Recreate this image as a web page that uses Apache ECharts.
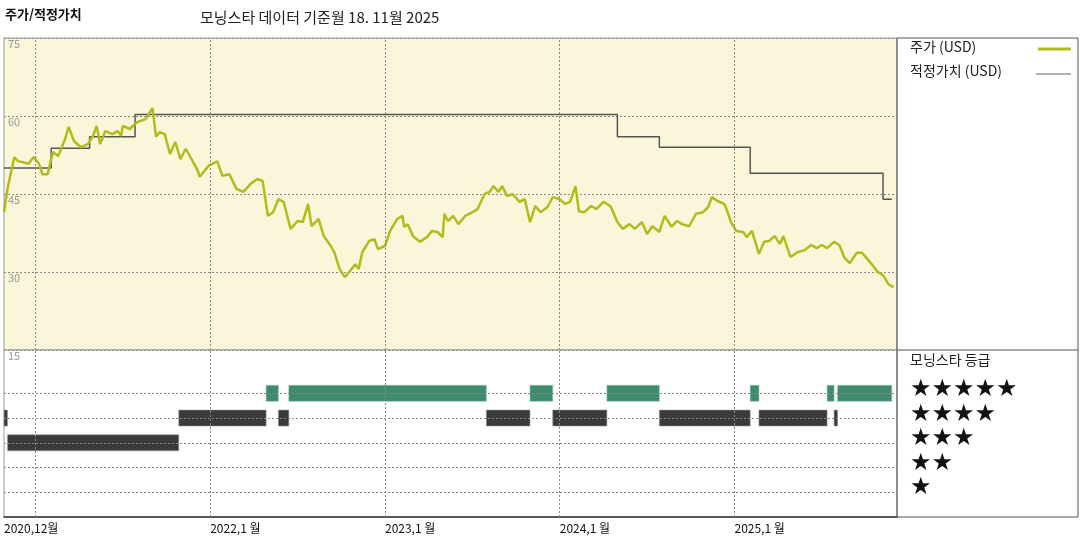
<!DOCTYPE html>
<html>
<head>
<meta charset="utf-8">
<script src="https://cdn.jsdelivr.net/npm/echarts@6/dist/echarts.min.js"></script>
<style>
  html, body { margin: 0; padding: 0; background: #fff; }
  #main { width: 1080px; height: 540px; }
</style>
</head>
<body>
<div id="main"></div>
<script>
// 시간 축은 소수 연도 (2021.5 = 2021년 중반)
const priceYears = [2020.82,2020.84,2020.86,2020.88,2020.90,2020.93,2020.96,2020.99,2021.02,2021.04,2021.07,2021.10,2021.13,2021.14,2021.17,2021.19,2021.22,2021.26,2021.30,2021.33,2021.35,2021.37,2021.40,2021.44,2021.47,2021.49,2021.50,2021.54,2021.58,2021.63,2021.67,2021.69,2021.71,2021.74,2021.77,2021.80,2021.83,2021.86,2021.90,2021.93,2021.94,2021.99,2022.04,2022.07,2022.11,2022.15,2022.19,2022.23,2022.27,2022.30,2022.33,2022.36,2022.39,2022.42,2022.46,2022.50,2022.53,2022.56,2022.58,2022.62,2022.65,2022.69,2022.71,2022.74,2022.77,2022.80,2022.83,2022.85,2022.87,2022.91,2022.94,2022.96,2023.00,2023.03,2023.07,2023.10,2023.11,2023.13,2023.16,2023.20,2023.24,2023.27,2023.30,2023.33,2023.34,2023.36,2023.39,2023.42,2023.46,2023.50,2023.53,2023.57,2023.60,2023.62,2023.65,2023.67,2023.70,2023.73,2023.77,2023.80,2023.83,2023.86,2023.89,2023.93,2023.96,2024.00,2024.03,2024.06,2024.09,2024.11,2024.14,2024.18,2024.21,2024.25,2024.29,2024.33,2024.36,2024.40,2024.43,2024.47,2024.50,2024.53,2024.57,2024.60,2024.64,2024.67,2024.70,2024.74,2024.78,2024.82,2024.85,2024.87,2024.90,2024.94,2024.95,2024.98,2025.01,2025.05,2025.07,2025.10,2025.14,2025.17,2025.20,2025.23,2025.26,2025.28,2025.32,2025.36,2025.40,2025.44,2025.47,2025.50,2025.53,2025.57,2025.60,2025.63,2025.66,2025.70,2025.73,2025.75,2025.79,2025.82,2025.85,2025.88,2025.91];
const priceValues = [41.5,46,49.2,52.1,51.3,51.1,50.8,52.1,50.8,48.8,48.8,53.1,52.3,53.1,55.6,57.9,55.2,54,54.6,56.2,58.1,54.6,57.1,56.5,57.1,56.2,58.1,57.5,58.8,59.4,61.5,56,56.9,56.5,52.7,55,51.7,53.7,51.3,49.4,48.3,50.4,51.3,48.5,48.8,46,45.4,46.9,47.9,47.5,40.8,41.5,44,43.5,38.3,39.8,39.6,43.1,38.8,40.2,36.9,35,33.8,30.6,29,30.2,31.5,30.6,33.8,36,36.3,34.4,35,37.9,40.2,40.8,38.7,39.2,36.9,35.8,36.7,37.9,37.7,36.7,41.2,39.8,40.8,39.2,40.8,41.5,42.1,45,45.4,46.5,45.4,46.5,44.6,45,43.5,44,39.6,42.7,41.5,42.5,44.4,44,43.1,43.5,46.5,41.7,41.5,42.7,42.1,43.5,42.7,39.6,38.3,39.2,38.3,39.6,37.3,38.8,37.7,40.8,38.7,39.8,39.2,38.8,41.2,41.5,42.5,44.4,43.7,43.1,42.5,39.6,37.9,37.7,36.7,37.9,33.5,35.8,36,36.9,35.4,36.9,32.9,33.8,34.2,35.2,34.6,35.2,34.6,35.8,35.2,32.7,31.7,33.7,33.7,32.9,31.3,30,29.4,27.7,27.1,27.5];

const fairYears = [2020.82,2021.09,2021.31,2021.57,2024.33,2024.57,2025.09,2025.85,2025.90];
const fairValues = [50,53.8,56,60.3,56,54,49,44,44];

const ratingStart = [2020.82,2020.84,2021.82,2022.32,2022.39,2022.45,2023.58,2023.83,2023.96,2024.27,2024.57,2025.09,2025.14,2025.53,2025.57,2025.59];
const ratingEnd   = [2020.84,2021.82,2022.32,2022.39,2022.45,2023.58,2023.83,2023.96,2024.27,2024.57,2025.09,2025.14,2025.53,2025.57,2025.59,2025.90];
const ratingStars = [4,3,4,5,4,5,4,5,4,5,4,5,4,5,4,5];

const yearTicks = [2021, 2022, 2023, 2024, 2025];
const xLabelValues = [2020.82, 2021, 2022, 2023, 2024, 2025];
const ratingLevels = [1, 2, 3, 4, 5];
const starRows = ['★★★★★', '★★★★', '★★★', '★★', '★'];

const xMin = 2020.82, xMax = 2025.93;
const font = '"Noto Sans CJK KR", "Noto Sans", sans-serif';

const chart = echarts.init(document.getElementById('main'));

const dashed = { color: '#888', type: [2, 2], width: 1 };

chart.setOption({
    animation: false,
    textStyle: { fontFamily: font },
    grid: [
        { left: 4, top: 38, right: 183, height: 312, show: true, backgroundColor: '#faf6d9', borderColor: '#999', borderWidth: 1 },
        { left: 4, top: 350, right: 183, height: 167, show: true, backgroundColor: '#fff', borderColor: '#999', borderWidth: 1 }
    ],
    xAxis: [
        { type: 'value', gridIndex: 0, min: xMin, max: xMax, show: false, splitLine: { show: false } },
        {
            type: 'value', gridIndex: 1, min: xMin, max: xMax,
            splitLine: { show: false },
            axisLine: { show: true, onZero: false, lineStyle: { color: '#333', width: 1.5 } },
            axisTick: { show: false },
            axisLabel: {
                customValues: xLabelValues, showMinLabel: true, showMaxLabel: true, hideOverlap: false,
                align: 'left', color: '#111', fontSize: 12, margin: 5,
                formatter: v => v < 2021 ? '2020,12월' : Math.round(v) + ',1 월'
            }
        }
    ],
    yAxis: [
        {
            type: 'value', gridIndex: 0, min: 15, max: 75, interval: 15,
            axisLine: { show: false }, axisTick: { show: false },
            axisLabel: { inside: true, verticalAlign: 'top', color: '#999', fontSize: 11, margin: 4, showMinLabel: true },
            splitLine: { show: true, lineStyle: dashed }
        },
        {
            type: 'value', gridIndex: 1, min: 0, max: 6.75,
            axisLine: { show: false }, axisTick: { show: false }, axisLabel: { show: false },
            splitLine: { show: false }
        }
    ],
    series: [
        {
            name: '적정가치 (USD)', type: 'line', xAxisIndex: 0, yAxisIndex: 0,
            data: fairYears.map((x, i) => [x, fairValues[i]]),
            step: 'end', symbol: 'none', lineStyle: { color: '#555', width: 1.5 },
            markLine: {
                silent: true, symbol: 'none', label: { show: false },
                lineStyle: dashed,
                data: yearTicks.map(y => ({ xAxis: y }))
            }
        },
        {
            name: '주가 (USD)', type: 'line', xAxisIndex: 0, yAxisIndex: 0,
            data: priceYears.map((x, i) => [x, priceValues[i]]),
            symbol: 'none', lineStyle: { color: '#b3bb1c', width: 2.5 }
        },
        {
            name: '모닝스타 등급', type: 'custom', xAxisIndex: 1, yAxisIndex: 1,
            data: ratingStart.map((s, i) => [s, ratingEnd[i], ratingStars[i]]),
            renderItem: (params, api) => {
                const p0 = api.coord([api.value(0), api.value(2)]);
                const p1 = api.coord([api.value(1), api.value(2)]);
                const h = 16;
                const five = api.value(2) === 5;
                return {
                    type: 'rect',
                    shape: { x: p0[0], y: p0[1] - h / 2, width: Math.max(p1[0] - p0[0], 2), height: h },
                    style: { fill: five ? '#3f8c6c' : '#3a3a3a', stroke: five ? '#8fbfa9' : '#999', lineWidth: 0.6 }
                };
            },
            markLine: {
                silent: true, symbol: 'none', label: { show: false },
                lineStyle: dashed,
                data: yearTicks.map(y => ({ xAxis: y })).concat(ratingLevels.map(v => ({ yAxis: v })))
            },
            z: 3
        }
    ],
    graphic: [
        { type: 'text', left: 5, top: 8, style: { text: '주가/적정가치', font: 'bold 13px ' + font, fill: '#111' } },
        { type: 'text', left: 200, top: 10, style: { text: '모닝스타 데이터 기준월 18. 11월 2025', font: '15px ' + font, fill: '#222' } },
        { type: 'rect', shape: { x: 897, y: 38, width: 181, height: 479 }, style: { fill: 'none', stroke: '#555', lineWidth: 1 } },
        { type: 'line', shape: { x1: 897, y1: 350, x2: 1078, y2: 350 }, style: { stroke: '#555', lineWidth: 1 } },
        { type: 'text', left: 910, top: 40, style: { text: '주가 (USD)', font: '14px ' + font, fill: '#222' } },
        { type: 'line', shape: { x1: 1038, y1: 49, x2: 1071, y2: 49 }, style: { stroke: '#b3bb1c', lineWidth: 3 } },
        { type: 'text', left: 910, top: 64, style: { text: '적정가치 (USD)', font: '14px ' + font, fill: '#222' } },
        { type: 'line', shape: { x1: 1036, y1: 74, x2: 1071, y2: 74 }, style: { stroke: '#666', lineWidth: 1 } },
        { type: 'text', left: 910, top: 353, style: { text: '모닝스타 등급', font: '14px ' + font, fill: '#222' } }
    ].concat(starRows.map((s, i) => ({
        type: 'text', left: 910, top: 378 + i * 24.5,
        style: { text: s, font: '24px "DejaVu Sans", sans-serif', fill: '#111' }
    })))
});
</script>
</body>
</html>
